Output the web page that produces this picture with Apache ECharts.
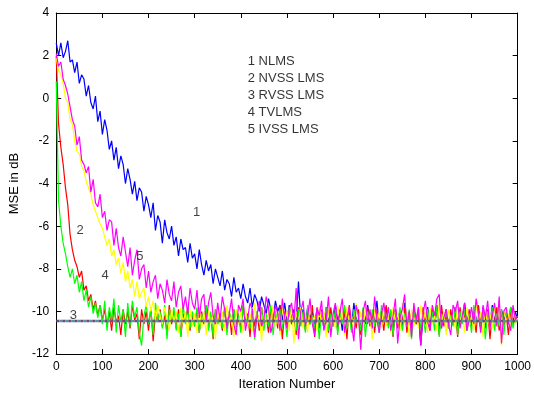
<!DOCTYPE html>
<html><head><meta charset="utf-8">
<script src="https://cdn.jsdelivr.net/npm/echarts@6/dist/echarts.min.js"></script>
<style>html,body{margin:0;padding:0;background:#fff}#c{width:534px;height:396px}</style>
</head><body><div id="c"></div>
<script>
// sample spacing (iterations) of the value arrays below
const STEP = 5;

// 1 NLMS (blue)
const nlms = [
 2.6, 2.0, 2.6, 1.9, 2.2, 2.7, 1.7, 1.8, 1.2, 1.7,
 0.7, 1.1, 0.9, 0.1, 0.6, -0.2, -0.5, 0.1, -1.1, -0.6,
 -1.7, -1.0, -1.5, -2.4, -2.0, -2.9, -2.3, -3.3, -2.7, -3.1,
 -4.0, -3.3, -3.8, -4.5, -3.9, -4.8, -4.2, -4.4, -5.3, -4.6,
 -5.0, -5.6, -4.9, -6.2, -5.5, -5.8, -6.8, -5.7, -6.3, -6.6,
 -6.0, -6.9, -6.5, -7.4, -6.6, -7.1, -7.0, -7.7, -6.8, -7.5,
 -7.3, -8.0, -7.1, -7.8, -8.3, -7.6, -8.1, -7.8, -8.7, -8.0,
 -8.4, -8.8, -8.1, -9.0, -8.5, -8.7, -9.3, -8.4, -9.1, -8.9,
 -9.4, -8.7, -9.3, -9.6, -8.9, -9.8, -9.2, -9.5, -10.0, -9.3,
 -9.7, -10.1, -9.4, -9.9, -10.3, -9.5, -10.0, -9.7, -10.4, -9.6,
 -10.4, -9.7, -10.3, -9.9, -10.5, -8.6, -10.4, -9.9, -10.6, -9.8,
 -10.3, -10.0, -10.7, -9.9, -10.4, -10.1, -10.8, -9.8, -10.5, -10.0,
 -10.6, -9.7, -10.4, -10.1, -10.9, -9.9, -10.5, -10.0, -10.7, -9.6,
 -10.4, -10.2, -10.8, -9.9, -10.5, -9.7, -10.6, -10.1, -10.4, -9.5,
 -10.7, -10.0, -10.5, -9.8, -10.6, -10.2, -10.9, -9.9, -10.4, -10.0,
 -10.7, -9.6, -10.5, -10.1, -10.8, -9.9, -10.4, -10.0, -11.6, -10.2,
 -10.5, -9.8, -10.6, -10.1, -10.4, -9.7, -10.7, -10.0, -10.5, -9.9,
 -10.6, -10.2, -10.4, -9.8, -10.7, -10.0, -10.5, -9.6, -10.4, -10.1,
 -10.6, -9.9, -10.5, -10.0, -10.8, -9.8, -10.4, -10.1, -10.6, -9.7,
 -10.5, -10.0, -10.7, -9.9, -10.4, -10.1, -10.6, -9.8, -10.5, -10.0,
 -10.4
];

// 2 NVSS LMS (red)
const nvss = [
 2.0, -1.2, -2.3, -3.1, -4.2, -5.0, -6.4, -7.1, -7.6, -7.9,
 -8.4, -8.1, -9.0, -8.8, -9.5, -9.2, -9.9, -9.5, -10.2, -9.7,
 -10.4, -9.9, -10.7, -10.0, -10.9, -9.8, -10.5, -10.2, -11.1, -9.9,
 -10.6, -10.0, -10.8, -9.7, -10.4, -10.1, -11.3, -9.9, -10.6, -10.0,
 -10.9, -9.8, -11.4, -10.1, -10.5, -9.9, -10.7, -10.2, -11.0, -9.7,
 -10.6, -10.0, -10.8, -9.9, -11.2, -10.1, -10.5, -9.8, -10.9, -10.2,
 -10.7, -9.9, -11.0, -10.0, -10.6, -9.7, -10.8, -10.2, -11.3, -9.9,
 -10.5, -10.1, -10.9, -9.8, -10.7, -10.0, -11.1, -9.9, -10.6, -10.2,
 -10.8, -9.7, -10.5, -10.1, -11.2, -9.9, -10.7, -10.0, -10.9, -9.8,
 -10.6, -10.2, -11.0, -9.9, -10.5, -10.1, -10.8, -9.7, -11.3, -10.0,
 -10.7, -9.9, -10.6, -10.2, -11.1, -9.8, -10.5, -10.0, -10.9, -10.1,
 -10.6, -9.7, -11.2, -10.0, -10.8, -9.9, -10.5, -10.2, -11.0, -9.8,
 -10.7, -10.1, -10.9, -9.9, -10.6, -10.0, -11.3, -9.7, -10.5, -10.2,
 -10.8, -9.9, -11.1, -10.0, -10.6, -9.8, -10.7, -10.1, -11.0, -9.9,
 -10.5, -10.2, -10.9, -9.7, -10.6, -10.0, -11.2, -9.9, -10.8, -10.1,
 -10.5, -9.8, -11.0, -10.0, -10.7, -9.9, -10.6, -10.2, -11.4, -9.8,
 -10.6, -10.1, -10.9, -9.9, -10.5, -10.0, -11.1, -9.7, -10.7, -10.2,
 -10.8, -9.9, -10.6, -10.0, -11.2, -9.8, -10.5, -10.1, -10.9, -9.9,
 -10.7, -10.2, -11.0, -9.7, -10.6, -10.0, -10.8, -9.9, -11.3, -10.1,
 -10.5, -9.8, -10.9, -10.0, -10.7, -10.1, -11.1, -9.9, -10.6, -10.2,
 -10.4
];

// 3 RVSS LMS (green)
const rvss = [
 0.8, -4.8, -6.0, -6.8, -7.3, -7.9, -8.4, -8.0, -8.7, -8.3,
 -9.1, -8.6, -9.5, -9.0, -9.8, -9.3, -10.1, -9.6, -10.3, -9.7,
 -10.6, -9.5, -10.9, -9.8, -10.4, -9.4, -11.0, -9.7, -10.5, -9.9,
 -11.2, -9.6, -10.7, -9.5, -10.3, -9.8, -11.0, -11.6, -10.2, -9.7,
 -10.6, -9.9, -11.1, -9.6, -10.4, -10.0, -10.8, -9.7, -11.3, -9.9,
 -10.5, -9.8, -10.9, -10.1, -11.2, -9.7, -10.6, -9.9, -10.8, -10.0,
 -10.7, -9.8, -11.0, -10.1, -10.5, -9.7, -10.9, -10.0, -11.2, -9.9,
 -10.6, -10.2, -10.8, -9.8, -11.1, -10.0, -10.5, -9.9, -10.9, -10.1,
 -11.0, -9.7, -10.6, -10.2, -10.8, -9.9, -11.3, -10.0, -10.5, -9.8,
 -10.9, -10.1, -10.7, -9.7, -11.1, -10.0, -10.6, -9.9, -10.8, -10.2,
 -11.2, -9.8, -10.5, -10.1, -10.9, -9.9, -10.7, -10.0, -11.0, -9.7,
 -10.6, -10.2, -10.8, -9.9, -11.3, -10.0, -10.5, -9.8, -10.9, -10.1,
 -10.7, -9.9, -11.1, -10.0, -10.6, -9.7, -10.8, -10.2, -11.0, -9.9,
 -10.5, -10.1, -10.9, -9.8, -11.2, -10.0, -10.6, -9.9, -10.7, -10.1,
 -11.0, -9.7, -10.5, -10.2, -10.8, -9.9, -11.1, -10.0, -10.6, -9.8,
 -10.9, -10.1, -10.7, -9.9, -11.3, -10.0, -10.5, -9.8, -10.8, -10.2,
 -11.0, -9.9, -10.6, -10.0, -10.9, -9.7, -11.2, -10.1, -10.5, -9.9,
 -10.8, -10.2, -10.7, -9.8, -11.1, -10.0, -10.6, -9.9, -10.9, -10.1,
 -11.0, -9.7, -10.5, -10.2, -10.8, -9.9, -11.3, -10.0, -10.6, -9.8,
 -10.9, -10.1, -10.7, -9.9, -11.1, -10.0, -10.5, -9.8, -10.8, -10.2,
 -10.4
];

// 4 TVLMS (yellow)
const tvlms = [
 1.9, 1.3, 1.1, 0.7, 0.0, -0.2, -1.0, -1.2, -2.0, -2.5,
 -2.6, -3.2, -3.4, -3.9, -4.2, -4.5, -5.0, -5.3, -5.6, -5.9,
 -6.1, -6.5, -6.9, -6.6, -7.4, -7.1, -7.8, -7.5, -8.2, -7.7,
 -8.6, -8.1, -8.9, -8.5, -9.3, -8.6, -9.4, -9.1, -8.9, -9.8,
 -9.3, -10.0, -9.5, -10.4, -9.7, -10.2, -10.6, -9.8, -10.3, -10.9,
 -9.9, -10.5, -10.0, -11.0, -9.8, -10.6, -10.0, -11.2, -9.9, -10.7,
 -10.1, -11.0, -9.8, -10.8, -10.0, -11.1, -9.9, -10.6, -10.1, -11.3,
 -9.8, -10.7, -10.0, -10.9, -9.7, -10.5, -10.2, -11.2, -9.9, -10.6,
 -10.0, -11.0, -9.8, -10.7, -10.1, -10.9, -9.6, -10.5, -10.2, -11.4,
 -9.9, -10.6, -10.0, -10.8, -9.7, -10.7, -10.1, -11.1, -9.8, -10.5,
 -10.0, -10.9, -9.7, -11.5, -10.0, -10.6, -9.8, -10.8, -10.1, -11.0,
 -9.6, -10.5, -10.2, -10.9, -9.8, -10.6, -10.0, -11.2, -9.9, -10.7,
 -10.1, -10.8, -9.7, -10.5, -10.0, -11.1, -9.8, -10.6, -10.2, -11.0,
 -9.6, -10.7, -10.0, -10.9, -9.8, -10.5, -10.1, -11.3, -9.9, -10.6,
 -10.0, -10.8, -9.7, -10.7, -10.2, -11.0, -9.8, -10.5, -10.1, -10.9,
 -9.6, -10.6, -10.0, -11.2, -9.9, -10.7, -10.1, -10.8, -9.7, -10.5,
 -10.0, -11.0, -9.8, -10.6, -10.2, -10.9, -9.6, -10.7, -10.0, -11.1,
 -9.9, -10.5, -10.1, -10.8, -9.7, -10.6, -10.0, -11.0, -9.8, -10.7,
 -10.2, -10.9, -9.6, -10.5, -10.0, -11.2, -9.9, -10.6, -10.1, -10.8,
 -9.7, -10.7, -9.5, -11.6, -9.9, -10.5, -10.1, -10.9, -9.8, -10.6,
 -10.3
];

// 5 IVSS LMS (magenta)
const ivss = [
 2.1, 1.5, 1.7, 0.9, 0.6, 0.2, -0.4, -1.0, -1.3, -2.2,
 -1.8, -2.9, -3.1, -3.5, -3.2, -4.4, -3.8, -4.9, -5.1, -4.5,
 -5.6, -5.3, -6.2, -5.7, -5.8, -6.9, -6.1, -7.0, -7.4, -6.5,
 -7.2, -7.9, -7.0, -8.3, -7.6, -7.1, -8.5, -8.0, -7.8, -8.9,
 -8.1, -9.1, -8.6, -8.3, -9.4, -8.7, -9.0, -9.6, -8.5, -9.2,
 -9.5, -8.6, -9.8, -9.1, -8.8, -9.9, -9.3, -10.1, -8.9, -9.6,
 -9.9, -9.0, -10.3, -9.4, -9.2, -10.5, -9.6, -9.1, -10.2, -10.6,
 -9.6, -10.4, -9.3, -9.9, -10.8, -10.1, -9.4, -10.6, -11.1, -9.7,
 -10.0, -9.4, -10.9, -10.3, -9.6, -9.9, -11.2, -10.2, -9.5, -10.7,
 -10.4, -9.3, -9.8, -11.0, -10.5, -9.7, -10.1, -10.9, -9.4, -10.3,
 -10.8, -9.9, -9.6, -10.5, -8.9, -11.3, -10.0, -9.5, -10.7, -10.2,
 -9.4, -10.6, -11.1, -9.8, -10.2, -9.5, -10.9, -10.4, -9.3, -11.2,
 -10.1, -9.6, -10.7, -10.0, -9.4, -11.0, -10.3, -9.8, -10.6, -11.4,
 -9.7, -10.2, -11.8, -10.0, -9.5, -10.6, -9.9, -10.8, -9.3, -10.4,
 -11.0, -10.1, -9.6, -10.5, -9.8, -10.9, -10.2, -9.4, -11.5, -10.3,
 -9.9, -9.2, -10.7, -10.0, -11.2, -9.6, -10.4, -9.8, -11.6, -10.1,
 -9.5, -10.5, -10.9, -9.7, -10.2, -9.4, -9.2, -10.8, -10.3, -9.9,
 -10.6, -11.1, -9.7, -10.0, -9.5, -10.8, -10.2, -9.6, -10.9, -10.4,
 -9.8, -10.6, -9.4, -10.1, -11.0, -9.7, -10.3, -9.5, -10.8, -10.2,
 -9.6, -10.7, -9.3, -11.5, -10.0, -9.8, -10.5, -10.9, -9.7, -10.4,
 -10.2
];

// theoretical steady-state MSE (dashed)
const steadyIter = [0, 1000];
const steadyMSE = [-10.45, -10.45];

// curve number annotations [iteration, dB, text]
const annotations = [
 [304, -5.35, '1'],
 [52, -6.2, '2'],
 [37, -10.2, '3'],
 [106, -8.3, '4'],
 [181, -7.4, '5']
];
const legendAnchor = [414, 0.14];
const legendLines = ['1 NLMS', '2 NVSS LMS', '3 RVSS LMS', '4 TVLMS', '5 IVSS LMS'];

const seriesDefs = [
 {name: 'NLMS', data: nlms, color: '#0000ff'},
 {name: 'NVSS LMS', data: nvss, color: '#ff0000'},
 {name: 'RVSS LMS', data: rvss, color: '#00ff00'},
 {name: 'TVLMS', data: tvlms, color: '#ffff00'},
 {name: 'IVSS LMS', data: ivss, color: '#ff00ff'}
];

const FONT = "'Liberation Sans', Arial, Helvetica, sans-serif";
const toPairs = arr => arr.map((v, i) => [i * STEP, v]);

const chart = echarts.init(document.getElementById('c'), null, {renderer: 'canvas'});

const axisCommon = () => ({
 axisLine: {show: true, onZero: false, lineStyle: {color: '#000', width: 1}},
 axisTick: {show: true, inside: true, length: 5, lineStyle: {color: '#000'}},
 splitLine: {show: false}
});

const series = seriesDefs.map(s => ({
 type: 'line', name: s.name, data: toPairs(s.data),
 showSymbol: false, symbol: 'none', smooth: false,
 lineStyle: {color: s.color, width: 1.2},
 itemStyle: {color: s.color},
 silent: true
}));

series.push({
 type: 'line', data: steadyIter.map((x, i) => [x, steadyMSE[i]]), symbol: 'none',
 lineStyle: {color: '#6e4a86', width: 2.5, type: [3, 3]}, z: 5, silent: true
});
series.push({
 type: 'line', data: steadyIter.map((x, i) => [x, steadyMSE[i]]), symbol: 'none',
 lineStyle: {color: '#4f9a96', width: 2.5, type: [3, 3], dashOffset: 3}, z: 5, silent: true
});
series.push({
 type: 'scatter', symbolSize: 1, itemStyle: {color: 'rgba(0,0,0,0)'}, z: 6, silent: true,
 data: annotations.map(a => ({value: [a[0], a[1]], name: a[2]})),
 label: {show: true, position: 'inside', formatter: p => p.name, color: '#111', fontSize: 13, fontFamily: FONT}
});
series.push({
 type: 'scatter', symbolSize: 1, itemStyle: {color: 'rgba(0,0,0,0)'}, z: 6, silent: true,
 data: [{value: legendAnchor, name: 'legend'}],
 label: {show: true, position: 'right', distance: 0, align: 'left', verticalAlign: 'middle',
   formatter: () => legendLines.join('\n'), lineHeight: 17, color: '#000', fontSize: 13, fontFamily: FONT}
});

const plain = v => String(v);

chart.setOption({
 animation: false,
 backgroundColor: '#fff',
 grid: {left: 56, right: 15, top: 13, bottom: 39, show: false},
 xAxis: [
  Object.assign({type: 'value', min: 0, max: 1000, interval: 100, position: 'bottom',
   axisLabel: {color: '#000', fontSize: 12, fontFamily: FONT, margin: 7, formatter: plain, showMinLabel: true, showMaxLabel: true},
   name: 'Iteration Number', nameLocation: 'middle', nameGap: 22,
   nameTextStyle: {color: '#000', fontSize: 13, fontFamily: FONT}}, axisCommon()),
  Object.assign({type: 'value', min: 0, max: 1000, interval: 100, position: 'top',
   axisLabel: {show: false}}, axisCommon())
 ],
 yAxis: [
  Object.assign({type: 'value', min: -12, max: 4, interval: 2, position: 'left',
   axisLabel: {color: '#000', fontSize: 12, fontFamily: FONT, margin: 7, formatter: plain, showMinLabel: true, showMaxLabel: true},
   name: 'MSE in dB', nameLocation: 'middle', nameGap: 32, nameRotate: 90,
   nameTextStyle: {color: '#000', fontSize: 13, fontFamily: FONT}}, axisCommon()),
  Object.assign({type: 'value', min: -12, max: 4, interval: 2, position: 'right',
   axisLabel: {show: false}}, axisCommon())
 ],
 series: series
});
</script>
</body></html>
